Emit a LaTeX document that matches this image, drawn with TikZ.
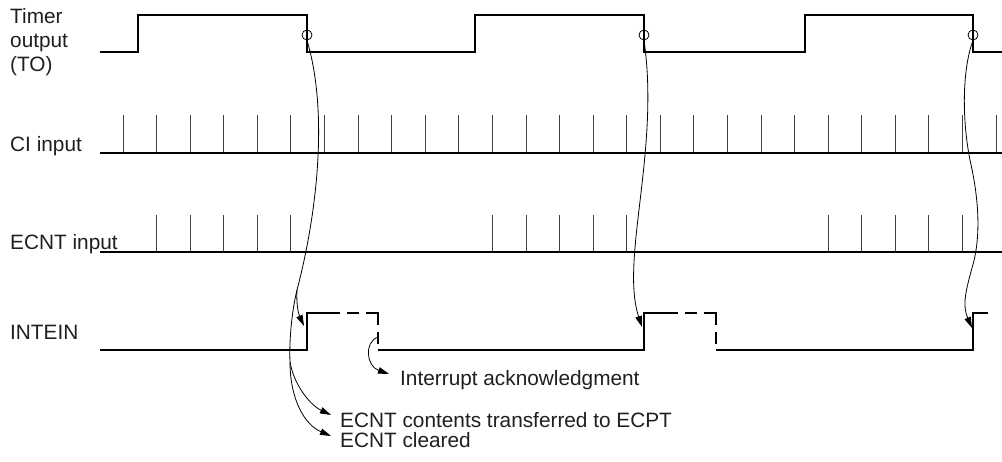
\documentclass[tikz,border=0pt]{standalone}
\usepackage{fontspec}
\setmainfont{Liberation Sans}
\usetikzlibrary{arrows.meta}
\begin{document}
\begin{tikzpicture}[x=1bp,y=-1bp,
  sig/.style={line width=2.7bp, line join=miter},
  baseln/.style={line width=2.4bp},
  tickln/.style={line width=0.9bp, black!75},
  conn/.style={line width=0.8bp},
  arr/.style={conn, -{Triangle[length=11bp,width=6.5bp]}},
  lbl/.style={anchor=base west, inner sep=0, font=\fontsize{20.8bp}{24bp}\selectfont, text=black!88},
  dsh/.style={sig, dash pattern=on 0bp off 7bp on 12bp off 7bp on 24bp off 7bp on 12bp off 7bp},
  ring/.style={circle, draw, line width=0.8bp, inner sep=0, minimum size=10bp}]
\useasboundingbox (0,0) rectangle (1002,462);

% labels
\node[lbl] (tmr1) at (10,24) {Timer};
\node[lbl] (tmr2) at (10,48) {output};
\node[lbl] (tmr3) at (10,72) {(TO)};
\node[lbl] (ci) at (10,152) {CI input};
\node[lbl] (ecnt) at (10,250) {ECNT input};
\node[lbl] (intein) at (10,340) {INTEIN};
\node[lbl] (ack) at (400,386) {Interrupt acknowledgment};
\node[lbl] (xfer) at (340,427) {ECNT contents transferred to ECPT};
\node[lbl] (clr) at (340,447) {ECNT cleared};

% Timer output
\draw[sig] (100,52) -- (138,52) -- (138,15) -- (307,15) -- (307,52) -- (475,52) -- (475,15)
  -- (644,15) -- (644,52) -- (805,52) -- (805,15) -- (973,15) -- (973,52) -- (1002,52);

% CI input
\foreach \i in {0,...,26} \draw[tickln] ({123+\i*33.58},115) -- ({123+\i*33.58},153);
\draw[baseln] (100,153) -- (1002,153);

% ECNT input
\foreach \i in {1,...,5,11,12,...,15,21,22,...,25} \draw[tickln] ({123+\i*33.58},215) -- ({123+\i*33.58},252);
\draw[baseln] (100,252) -- (1002,252);

% INTEIN
\draw[sig] (100,350) -- (307,350) -- (307,313) -- (340,313);
\draw[dsh] (340,313) -- (378,313) -- (378,350);
\draw[sig] (378,350) -- (644,350) -- (644,313) -- (678,313);
\draw[dsh] (678,313) -- (716,313) -- (716,350);
\draw[sig] (716,350) -- (973,350) -- (973,313) -- (988,313);

% rings at falling edges
\node[ring] (c1) at (307,35) {};
\node[ring] (c2) at (644,35) {};
\node[ring] (c3) at (973,35) {};

% connector points
\coordinate (b1) at (297,290);
\coordinate (b2) at (290,362);
\coordinate (t1) at (304,326);
\coordinate (t2) at (642,327);
\coordinate (t3) at (972,328);
\coordinate (ia) at (378,337);
\coordinate (t4) at (389,374);
\coordinate (e1) at (331,415);
\coordinate (e2) at (331,436);

\draw[conn] (c1.south) .. controls (328,110) and (318,210) .. (b1) .. controls (292,310) and (289,340) .. (b2);
\draw[arr] (b1) .. controls (296,305) and (299,315) .. (t1);
\draw[arr] (b2) .. controls (294,385) and (310,405) .. (e1);
\draw[arr] (b2) .. controls (290,400) and (305,425) .. (e2);

\draw[arr] (c2.south) .. controls (660,150) and (620,260) .. (t2);

\draw[arr] (c3.south) .. controls (962,70) and (962,120) .. (970,160)
  .. controls (978,195) and (982,235) .. (972,268)
  .. controls (966,290) and (962,305) .. (t3);

\draw[arr] (ia) .. controls (364,342) and (366,366) .. (t4);
\end{tikzpicture}
\end{document}
